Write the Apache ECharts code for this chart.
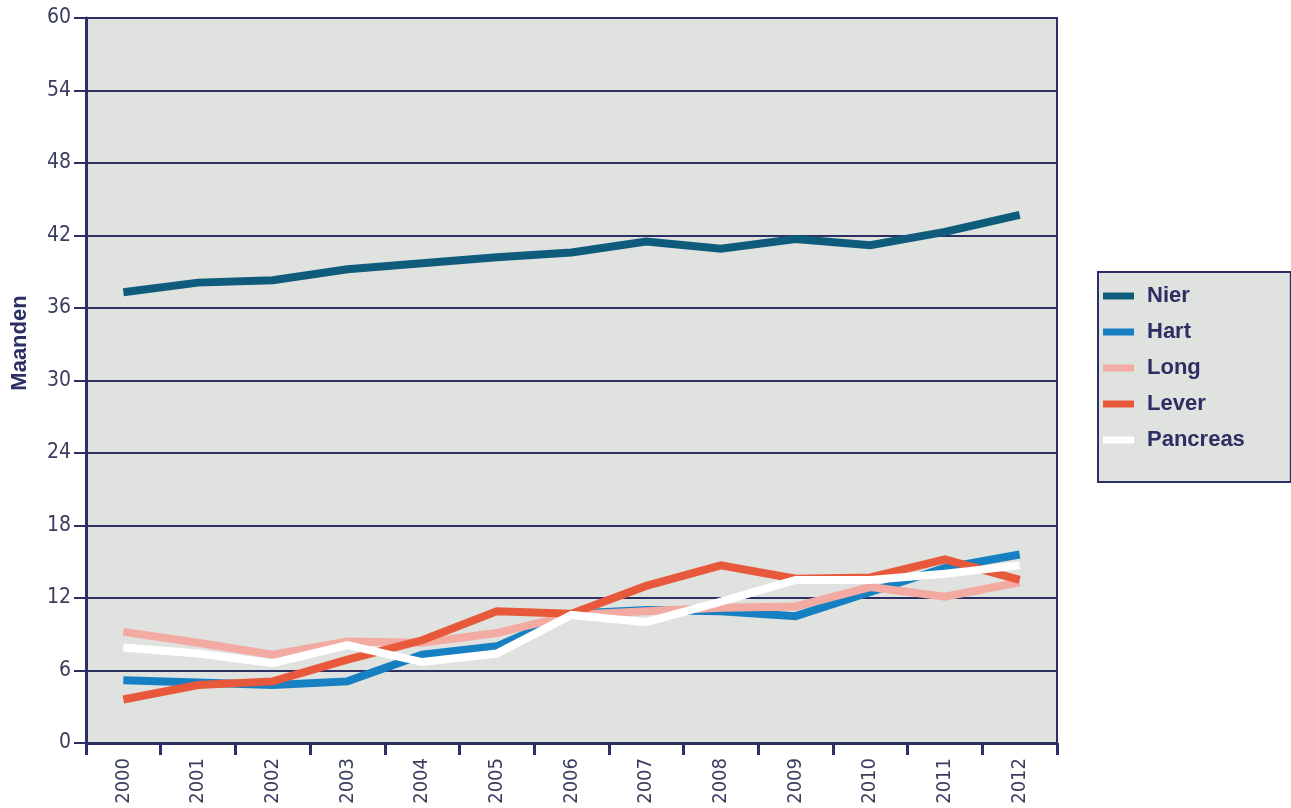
<!DOCTYPE html>
<html>
<head>
	<meta charset="utf-8">
	<title>Wachttijd</title>
	<script src="https://cdn.jsdelivr.net/npm/echarts@6/dist/echarts.min.js"></script>
	<style>
		body { margin: 0; background: #fff; }
		#main { width: 1291px; height: 808px; }
	</style>
</head>
<body>
	<div id="main"></div>
	<script type="text/javascript">
		// jaren op de x-as
		var years = ['2000', '2001', '2002', '2003', '2004', '2005', '2006', '2007', '2008', '2009', '2010', '2011', '2012'];
		// wachttijd in maanden per orgaan
		var nier = [37.3, 38.1, 38.3, 39.2, 39.7, 40.2, 40.6, 41.5, 40.9, 41.7, 41.2, 42.3, 43.7];
		var hart = [5.2, 5.0, 4.8, 5.1, 7.3, 8.0, 10.7, 11.0, 10.9, 10.5, 12.5, 14.5, 15.6];
		var long = [9.2, 8.3, 7.3, 8.4, 8.3, 9.1, 10.6, 10.9, 11.2, 11.3, 12.9, 12.1, 13.3];
		var lever = [3.6, 4.8, 5.1, 6.9, 8.5, 10.9, 10.7, 13.0, 14.7, 13.6, 13.7, 15.2, 13.5];
		var pancreas = [7.9, 7.4, 6.6, 8.1, 6.7, 7.4, 10.6, 10.0, 11.7, 13.5, 13.5, 14.0, 14.7];
		var yTicks = { min: 0, max: 60, interval: 6 };

		var navy = '#2c2f63';
		var labelFont = 'DejaVu Sans Condensed, DejaVu Sans, sans-serif';
		var boldFont = 'Liberation Sans, Arial, sans-serif';
		var myChart = echarts.init(document.getElementById('main'));

		function line(name, data, color) {
			return {
				name: name,
				type: 'line',
				data: data,
				symbol: 'none',
				lineStyle: { width: 8, color: color, cap: 'butt', join: 'miter' },
				itemStyle: { color: color },
				z: 3
			};
		}

		myChart.setOption({
			animation: false,
			grid: {
				left: 86, right: 234, top: 18, bottom: 65,
				show: true,
				backgroundColor: '#dfe2df',
				borderColor: navy,
				borderWidth: 2
			},
			// as-titel, gedraaid en iets boven het midden zoals in het origineel
			graphic: [{
				type: 'text',
				x: 20,
				y: 343,
				rotation: Math.PI / 2,
				style: {
					text: 'Maanden',
					fill: navy,
					font: 'bold 22px ' + boldFont,
					align: 'center',
					verticalAlign: 'middle'
				}
			}],
			legend: {
				orient: 'vertical',
				left: 1098,
				top: 272,
				padding: [12, 46, 30, 5],
				backgroundColor: '#dfe2df',
				borderColor: navy,
				borderWidth: 2,
				borderRadius: 0,
				icon: 'rect',
				itemWidth: 31,
				itemHeight: 7,
				itemGap: 12,
				textStyle: {
					color: navy,
					fontFamily: boldFont,
					fontWeight: 'bold',
					fontSize: 22,
					lineHeight: 24,
					padding: [0, 0, 0, 8]
				},
				data: ['Nier', 'Hart', 'Long', 'Lever', 'Pancreas']
			},
			xAxis: {
				type: 'category',
				data: years,
				boundaryGap: true,
				axisLine: { lineStyle: { color: navy, width: 3 } },
				axisTick: { show: true, length: 12, lineStyle: { color: navy, width: 3 } },
				axisLabel: {
					rotate: 90,
					color: '#3a3d5e',
					fontFamily: labelFont,
					fontSize: 20,
					margin: 15
				}
			},
			yAxis: {
				type: 'value',
				min: yTicks.min,
				max: yTicks.max,
				interval: yTicks.interval,
				axisLine: { show: true, lineStyle: { color: navy, width: 3 } },
				axisTick: { show: true, length: 12, lineStyle: { color: navy, width: 2 } },
				axisLabel: {
					color: '#3a3d5e',
					fontFamily: labelFont,
					fontSize: 21,
					margin: 15
				},
				splitLine: { show: true, lineStyle: { color: navy, width: 2 } }
			},
			series: [
				line('Nier', nier, '#0f5b7c'),
				line('Hart', hart, '#1680c2'),
				line('Long', long, '#f3aaa2'),
				line('Lever', lever, '#e8593c'),
				line('Pancreas', pancreas, '#ffffff')
			]
		});
	</script>
</body>
</html>
